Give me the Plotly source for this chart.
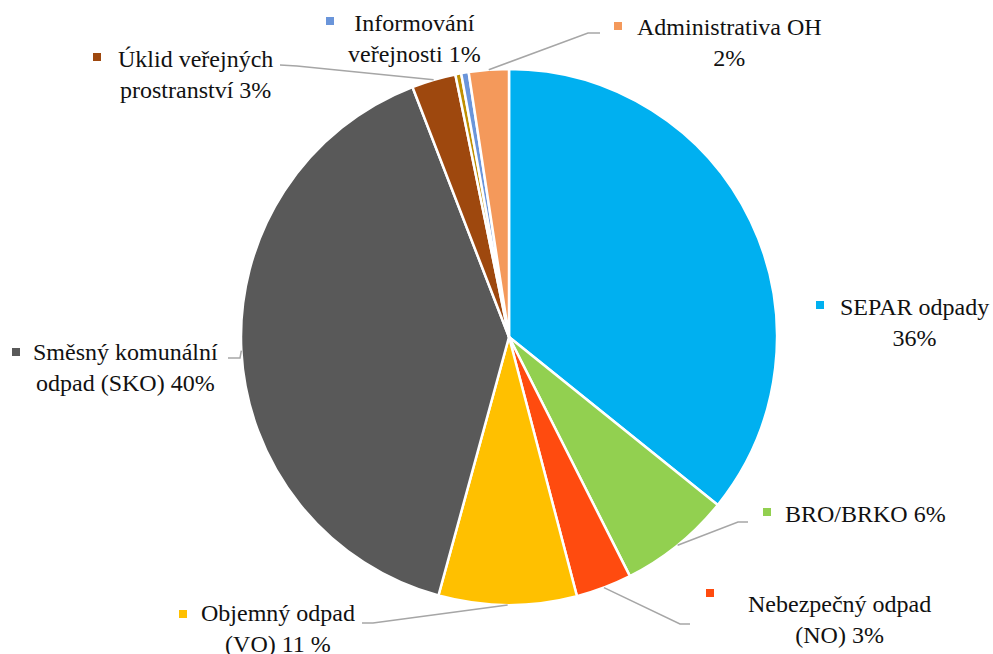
import math
import plotly.graph_objects as go

W, H = 993, 654

# ---- data (clockwise from 12 o'clock) ----
categories = ["SEPAR odpady", "BRO/BRKO", "Nebezpečný odpad (NO)", "Objemný odpad (VO)",
              "Směsný komunální odpad (SKO)", "Úklid veřejných prostranství", "Ostatní",
              "Informování veřejnosti", "Administrativa OH"]
values = [35.7, 6.75, 3.36, 8.3, 39.8, 2.65, 0.35, 0.45, 2.4]
label_texts = ["SEPAR odpady<br>36%", "BRO/BRKO 6%", "Nebezpečný odpad<br>(NO) 3%",
               "Objemný odpad<br>(VO) 11 %", "Směsný komunální<br>odpad (SKO) 40%",
               "Úklid veřejných<br>prostranství 3%", None,
               "Informování<br>veřejnosti 1%", "Administrativa OH<br>2%"]
colors = ["#00B0F0", "#92D050", "#FF4B0F", "#FFC000", "#595959",
          "#9E480E", "#BF8F00", "#6A95DA", "#F4995B"]

# ---- layout (pixels) ----
cx, cy, R = 509, 337, 268
label_pos = [(914, 322), (865, 514), (839, 619), (278, 628), (125, 367),
             (195, 74), None, (414, 39), (729, 42)]
marker_pos = [(820, 305), (767, 512), (710, 593), (183, 614), (16, 352),
              (97, 57), None, (330, 21), (618, 26)]
# leader elbow points (label side) per slice
leaders = {1: [(738, 522), (748, 522)],
           2: [(680, 624), (690, 624)],
           3: [(373, 623), (362, 623)],
           4: [(240, 358), (228, 358)],
           5: [(297, 66), (280, 65)],
           8: [(588, 33), (600, 33)]}

def px(x):
    return x / W

def py(y):
    return 1 - y / H

fig = go.Figure(go.Pie(
    labels=categories, values=values, sort=False, direction="clockwise", rotation=0,
    marker=dict(colors=colors, line=dict(color="white", width=2.5)),
    textinfo="none", hoverinfo="label+percent", showlegend=False,
    domain=dict(x=[px(cx - R), px(cx + R)], y=[py(cy + R), py(cy - R)]),
))

total = sum(values)
cum = 0
shapes = []
annotations = []
for i, v in enumerate(values):
    mid = (cum + v / 2) / total * 2 * math.pi
    cum += v
    ax_, ay_ = cx + R * math.sin(mid), cy - R * math.cos(mid)
    if i in leaders:
        pts = [(ax_, ay_)] + leaders[i]
        path = "M " + " L ".join(f"{px(x):.5f},{py(y):.5f}" for x, y in pts)
        shapes.append(dict(type="path", path=path, xref="paper", yref="paper",
                           line=dict(color="#A6A6A6", width=1.5)))
    if label_texts[i] is None:
        continue
    lx, ly = label_pos[i]
    annotations.append(dict(x=px(lx), y=py(ly), xref="paper", yref="paper",
                            text=label_texts[i], showarrow=False, align="center",
                            xanchor="center", yanchor="middle",
                            font=dict(family="Liberation Serif", size=24, color="#111111")))
    mx, my = marker_pos[i]
    s = 4
    shapes.append(dict(type="rect", xref="paper", yref="paper",
                       x0=px(mx - s), x1=px(mx + s), y0=py(my + s), y1=py(my - s),
                       fillcolor=colors[i], line=dict(width=0)))

fig.update_layout(width=W, height=H, margin=dict(l=0, r=0, t=0, b=0),
                  font=dict(family="Liberation Serif", size=24, color="#111111"),
                  paper_bgcolor="white", plot_bgcolor="white",
                  shapes=shapes, annotations=annotations)
fig.write_html("out.html", config={"displayModeBar": False},
               post_script="document.body.style.margin='0';document.body.style.overflow='hidden';")
